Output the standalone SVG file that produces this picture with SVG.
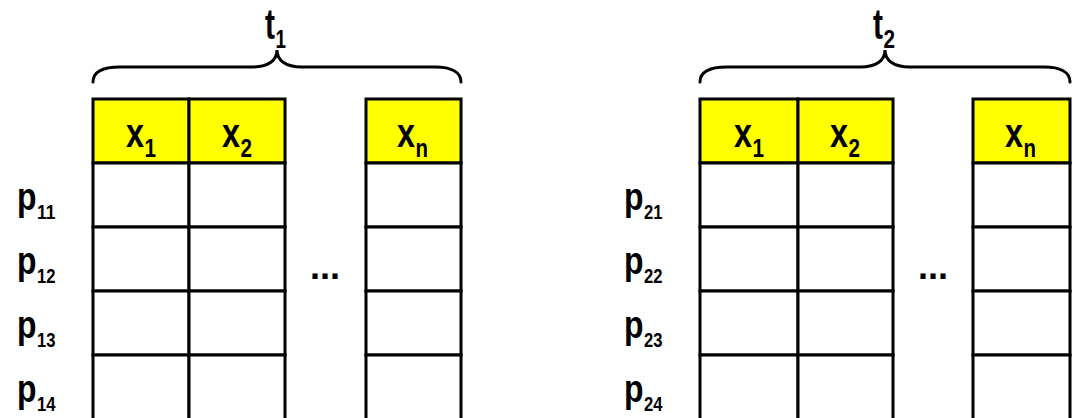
<svg xmlns="http://www.w3.org/2000/svg" width="1073" height="418" viewBox="0 0 1073 418">
<style>
  text { font-family: "Liberation Sans", Arial, sans-serif; font-weight: bold; fill: #000; }
  .cell { fill: #fff; stroke: #000; stroke-width: 3; }
  .head { fill: #ffff00; stroke: #000; stroke-width: 3; }
  .brace { fill: none; stroke: #000; stroke-width: 3; stroke-linecap: round; }
  .hx { font-size: 40px; }
  .hs { font-size: 26px; }
  .pl { font-size: 38px; }
  .ps { font-size: 20px; }
  .tl { font-size: 42px; }
  .dots { font-size: 36px; }
</style>
<rect width="1073" height="418" fill="#fff"/>

<g id="table1">
  <g id="t1-col1">
    <rect class="head" x="93" y="99" width="96" height="64"/>
    <rect class="cell" x="93" y="163" width="96" height="64"/>
    <rect class="cell" x="93" y="227" width="96" height="64"/>
    <rect class="cell" x="93" y="291" width="96" height="64"/>
    <rect class="cell" x="93" y="355" width="96" height="66"/>
    <text class="hx" x="126" y="147" textLength="18" lengthAdjust="spacingAndGlyphs">x</text>
    <text class="hs" x="144.5" y="157" textLength="11.5" lengthAdjust="spacingAndGlyphs">1</text>
  </g>
  <g id="t1-col2">
    <rect class="head" x="189" y="99" width="96" height="64"/>
    <rect class="cell" x="189" y="163" width="96" height="64"/>
    <rect class="cell" x="189" y="227" width="96" height="64"/>
    <rect class="cell" x="189" y="291" width="96" height="64"/>
    <rect class="cell" x="189" y="355" width="96" height="66"/>
    <text class="hx" x="222" y="147" textLength="18" lengthAdjust="spacingAndGlyphs">x</text>
    <text class="hs" x="240.5" y="157" textLength="11.5" lengthAdjust="spacingAndGlyphs">2</text>
  </g>
  <g id="t1-coln">
    <rect class="head" x="366" y="99" width="95" height="64"/>
    <rect class="cell" x="366" y="163" width="95" height="64"/>
    <rect class="cell" x="366" y="227" width="95" height="64"/>
    <rect class="cell" x="366" y="291" width="95" height="64"/>
    <rect class="cell" x="366" y="355" width="95" height="66"/>
    <text class="hx" x="397" y="147" textLength="18" lengthAdjust="spacingAndGlyphs">x</text>
    <text class="hs" x="415.5" y="157" textLength="12.5" lengthAdjust="spacingAndGlyphs">n</text>
  </g>
  <text id="t1-dots" class="dots" x="325" y="279" text-anchor="middle">...</text>
  <g id="t1-rows">
    <text class="pl" x="17" y="210" textLength="19.5" lengthAdjust="spacingAndGlyphs">p</text>
    <text class="ps" x="37" y="219" textLength="18.5" lengthAdjust="spacingAndGlyphs">11</text>
    <text class="pl" x="17" y="274" textLength="19.5" lengthAdjust="spacingAndGlyphs">p</text>
    <text class="ps" x="37" y="283" textLength="18.5" lengthAdjust="spacingAndGlyphs">12</text>
    <text class="pl" x="17" y="338" textLength="19.5" lengthAdjust="spacingAndGlyphs">p</text>
    <text class="ps" x="37" y="347" textLength="18.5" lengthAdjust="spacingAndGlyphs">13</text>
    <text class="pl" x="17" y="402" textLength="19.5" lengthAdjust="spacingAndGlyphs">p</text>
    <text class="ps" x="37" y="411" textLength="18.5" lengthAdjust="spacingAndGlyphs">14</text>
  </g>
  <g id="t1-label">
    <path class="brace" d="M93,82 C93,72 103,67 120,67 L252,67 C269,67 277,60 277,50 C277,60 285,67 302,67 L435,67 C451,67 461,72 461,82"/>
    <text class="tl" x="265" y="39" textLength="10" lengthAdjust="spacingAndGlyphs">t</text>
    <text class="hs" x="275.5" y="48" textLength="10.5" lengthAdjust="spacingAndGlyphs">1</text>
  </g>
</g>

<g id="table2">
  <g id="t2-col1">
    <rect class="head" x="700" y="99" width="98" height="64"/>
    <rect class="cell" x="700" y="163" width="98" height="64"/>
    <rect class="cell" x="700" y="227" width="98" height="64"/>
    <rect class="cell" x="700" y="291" width="98" height="64"/>
    <rect class="cell" x="700" y="355" width="98" height="66"/>
    <text class="hx" x="734" y="147" textLength="18" lengthAdjust="spacingAndGlyphs">x</text>
    <text class="hs" x="752.5" y="157" textLength="11.5" lengthAdjust="spacingAndGlyphs">1</text>
  </g>
  <g id="t2-col2">
    <rect class="head" x="798" y="99" width="95" height="64"/>
    <rect class="cell" x="798" y="163" width="95" height="64"/>
    <rect class="cell" x="798" y="227" width="95" height="64"/>
    <rect class="cell" x="798" y="291" width="95" height="64"/>
    <rect class="cell" x="798" y="355" width="95" height="66"/>
    <text class="hx" x="830" y="147" textLength="18" lengthAdjust="spacingAndGlyphs">x</text>
    <text class="hs" x="848.5" y="157" textLength="11.5" lengthAdjust="spacingAndGlyphs">2</text>
  </g>
  <g id="t2-coln">
    <rect class="head" x="973" y="99" width="97" height="64"/>
    <rect class="cell" x="973" y="163" width="97" height="64"/>
    <rect class="cell" x="973" y="227" width="97" height="64"/>
    <rect class="cell" x="973" y="291" width="97" height="64"/>
    <rect class="cell" x="973" y="355" width="97" height="66"/>
    <text class="hx" x="1005" y="147" textLength="18" lengthAdjust="spacingAndGlyphs">x</text>
    <text class="hs" x="1023.5" y="157" textLength="12.5" lengthAdjust="spacingAndGlyphs">n</text>
  </g>
  <text id="t2-dots" class="dots" x="933" y="279" text-anchor="middle">...</text>
  <g id="t2-rows">
    <text class="pl" x="624" y="210" textLength="19.5" lengthAdjust="spacingAndGlyphs">p</text>
    <text class="ps" x="644" y="219" textLength="18.5" lengthAdjust="spacingAndGlyphs">21</text>
    <text class="pl" x="624" y="274" textLength="19.5" lengthAdjust="spacingAndGlyphs">p</text>
    <text class="ps" x="644" y="283" textLength="18.5" lengthAdjust="spacingAndGlyphs">22</text>
    <text class="pl" x="624" y="338" textLength="19.5" lengthAdjust="spacingAndGlyphs">p</text>
    <text class="ps" x="644" y="347" textLength="18.5" lengthAdjust="spacingAndGlyphs">23</text>
    <text class="pl" x="624" y="402" textLength="19.5" lengthAdjust="spacingAndGlyphs">p</text>
    <text class="ps" x="644" y="411" textLength="18.5" lengthAdjust="spacingAndGlyphs">24</text>
  </g>
  <g id="t2-label">
    <path class="brace" d="M700,82 C700,72 710,67 727,67 L860,67 C877,67 885,60 885,50 C885,60 893,67 910,67 L1044,67 C1060,67 1070,72 1070,82"/>
    <text class="tl" x="873" y="39" textLength="10" lengthAdjust="spacingAndGlyphs">t</text>
    <text class="hs" x="883.5" y="48" textLength="11.5" lengthAdjust="spacingAndGlyphs">2</text>
  </g>
</g>
<g id="connectors"/>
</svg>
